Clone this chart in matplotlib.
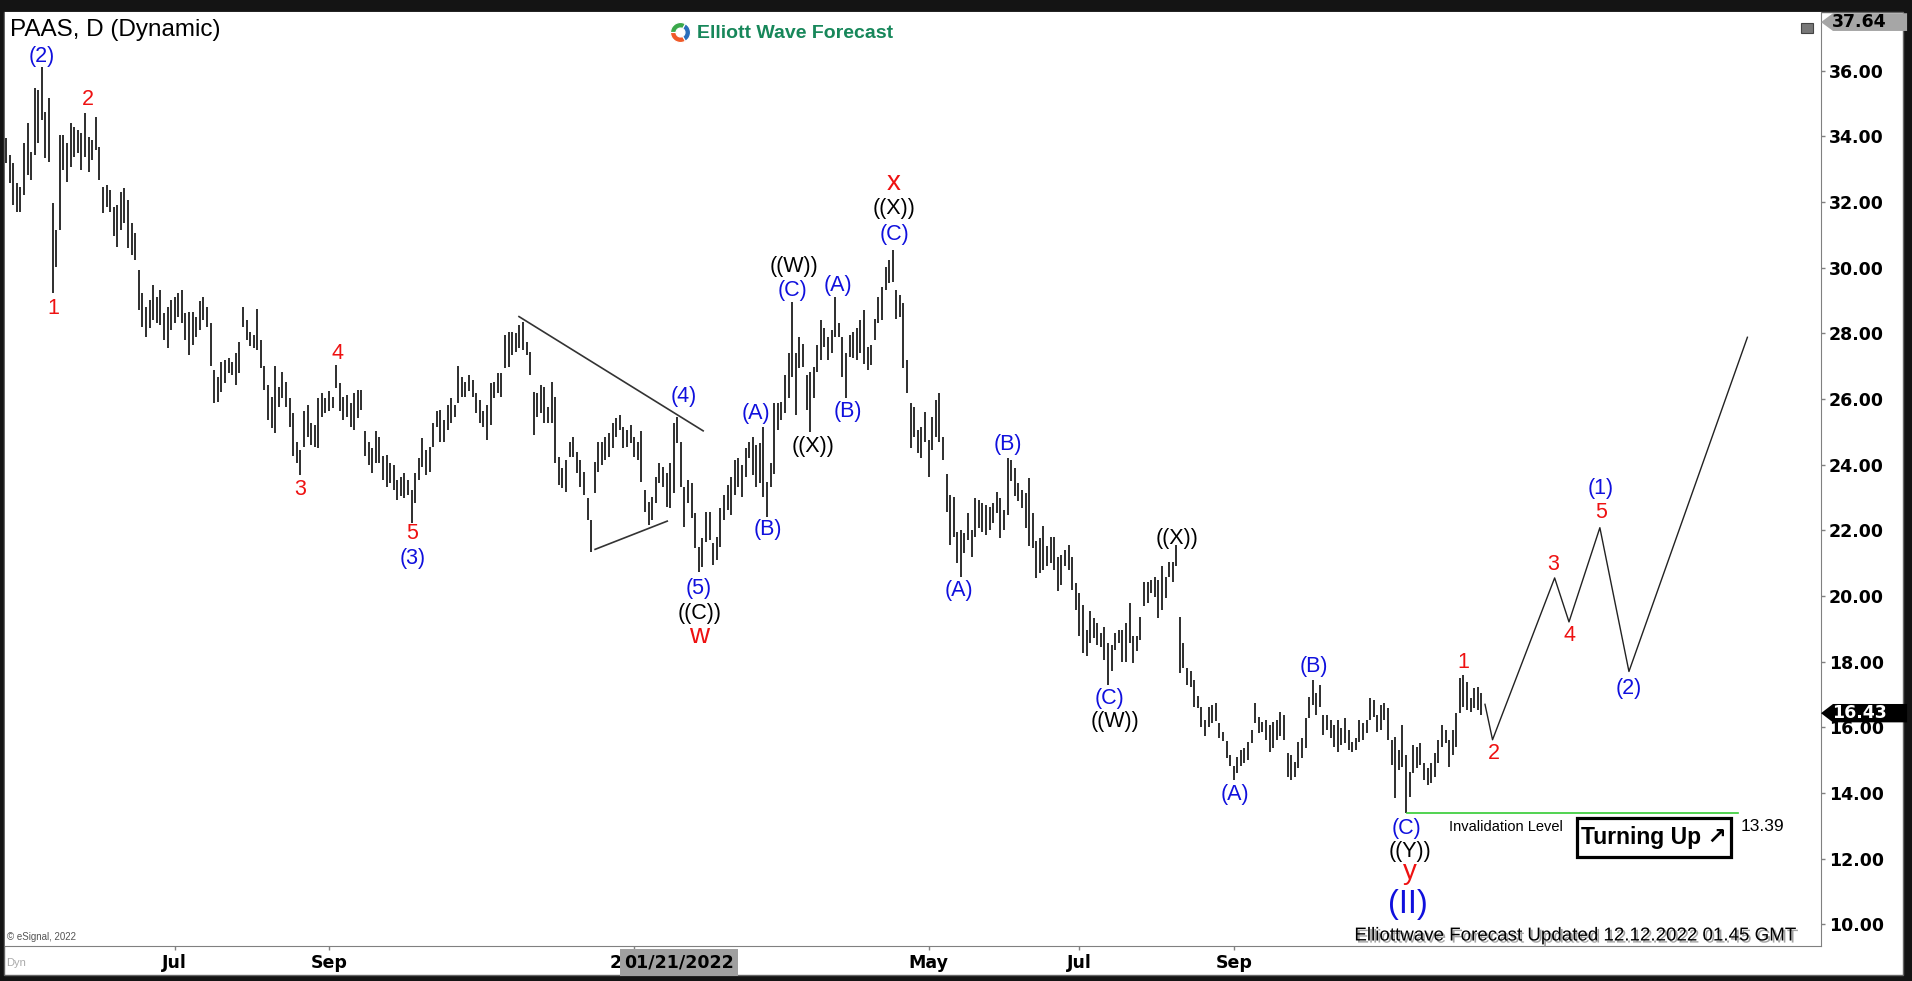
import numpy as np
import pandas as pd
import matplotlib
matplotlib.use('Agg')
import matplotlib.pyplot as plt
from matplotlib.patches import Rectangle, Polygon
import matplotlib.patheffects as pe
import matplotlib.transforms as mtransforms

# trading days shown on the chart (NYSE holidays removed)
holidays = ['2021-05-31', '2021-07-05', '2021-09-06', '2021-11-25', '2021-12-24',
            '2022-01-17', '2022-02-21', '2022-04-15', '2022-05-30', '2022-06-20',
            '2022-07-04', '2022-09-05', '2022-11-24']
dates = pd.bdate_range('2021-04-26', '2022-12-09')
dates = dates[~dates.isin(pd.to_datetime(holidays))]

# daily highs / lows
hi = [33.94, 33.43, 33.18, 32.57, 32.47, 33.79, 34.40, 33.53, 35.46, 35.41,
      36.12, 34.75, 35.16, 31.96, 31.15, 34.04, 34.04, 33.79, 34.40, 34.30,
      34.19, 34.09, 34.70, 33.99, 33.89, 34.60, 33.69, 32.47, 32.52, 32.37,
      31.86, 31.91, 32.32, 32.42, 32.06, 31.35, 31.05, 29.93, 29.22, 28.81,
      29.02, 29.47, 29.12, 29.32, 28.61, 28.81, 29.02, 29.12, 29.22, 29.32,
      28.61, 28.66, 28.66, 28.51, 28.97, 29.12, 28.81, 28.31, 26.88, 26.68,
      27.14, 27.19, 27.24, 27.14, 27.39, 27.75, 28.81, 28.41, 28.05, 27.95,
      28.73, 27.80, 26.99, 26.43, 26.07, 26.99, 26.38, 26.83, 26.53, 26.02,
      25.56, 24.70, 24.45, 25.62, 25.82, 25.26, 25.21, 26.02, 26.17, 26.02,
      26.23, 26.07, 27.04, 26.48, 26.07, 26.12, 25.87, 26.17, 26.27, 26.27,
      25.01, 24.70, 24.50, 25.01, 24.85, 24.25, 24.30, 24.04, 23.99, 23.53,
      23.63, 23.74, 23.53, 23.23, 23.74, 24.20, 24.80, 24.45, 24.55, 25.26,
      25.62, 25.67, 25.36, 25.82, 26.02, 25.82, 26.99, 26.68, 26.53, 26.73,
      26.58, 26.17, 25.97, 25.62, 25.82, 26.48, 26.53, 26.79, 26.78, 27.95,
      28.05, 28.05, 28.00, 28.25, 28.36, 27.75, 27.44, 26.22, 26.17, 26.43,
      26.38, 25.77, 26.53, 26.07, 24.24, 23.89, 24.14, 24.70, 24.85, 24.40,
      24.14, 23.79, 22.97, 22.31, 24.09, 24.70, 24.70, 24.85, 24.95, 25.26,
      25.41, 25.51, 25.16, 25.06, 25.21, 24.85, 24.70, 25.01, 23.23, 22.87,
      23.02, 23.63, 24.04, 23.94, 23.74, 24.04, 25.26, 25.46, 24.70, 23.33,
      23.53, 23.43, 22.52, 21.50, 21.76, 22.57, 22.57, 21.60, 21.81, 22.67,
      23.08, 23.38, 23.63, 24.14, 24.19, 23.99, 24.50, 24.70, 24.85, 24.60,
      24.65, 25.16, 23.48, 24.04, 25.87, 25.87, 25.92, 26.73, 27.39, 28.96,
      27.39, 27.90, 27.69, 26.73, 26.83, 26.98, 27.64, 28.40, 28.15, 27.90,
      28.10, 29.12, 28.30, 27.90, 27.39, 27.95, 28.05, 28.15, 28.40, 28.71,
      27.59, 27.64, 28.45, 29.12, 29.42, 30.03, 30.23, 30.54, 29.32, 29.17,
      28.91, 27.19, 25.87, 25.77, 25.05, 25.16, 25.61, 24.75, 25.46, 25.97,
      26.17, 24.85, 23.73, 23.07, 23.02, 21.96, 22.01, 21.91, 22.52, 22.01,
      22.97, 22.92, 22.82, 22.77, 22.72, 22.82, 23.18, 22.98, 22.62, 24.20,
      24.15, 23.89, 23.44, 23.23, 23.13, 23.59, 22.52, 21.66, 21.76, 22.12,
      21.51, 21.81, 21.81, 21.20, 21.25, 21.41, 21.56, 21.20, 20.39, 20.09,
      19.73, 18.97, 19.53, 19.32, 19.17, 18.87, 19.07, 18.56, 18.51, 18.87,
      18.97, 18.97, 19.17, 19.78, 18.77, 18.77, 19.37, 20.44, 20.44, 20.49,
      20.59, 20.49, 20.90, 20.59, 21.05, 21.05, 21.56, 19.37, 18.56, 17.80,
      17.70, 17.45, 16.94, 16.63, 16.23, 16.63, 16.68, 16.73, 16.12, 15.87,
      15.57, 15.16, 14.81, 15.11, 15.31, 15.36, 15.55, 15.92, 16.73, 16.32,
      16.17, 16.22, 16.07, 16.17, 16.22, 16.48, 16.38, 15.21, 15.16, 14.95,
      15.56, 15.66, 16.27, 16.93, 17.44, 17.04, 17.29, 16.38, 16.38, 16.22,
      16.07, 16.22, 15.97, 16.27, 15.92, 15.56, 15.66, 16.22, 16.12, 16.22,
      16.88, 16.83, 16.38, 16.68, 16.73, 16.58, 15.61, 15.71, 15.31, 16.07,
      15.16, 14.65, 15.46, 15.41, 15.51, 14.90, 14.75, 14.90, 15.21, 15.61,
      16.07, 15.92, 15.61, 15.92, 16.43, 17.49, 17.59, 17.39, 16.88, 17.19,
      17.24, 17.04]

lo = [33.18, 32.57, 31.91, 31.71, 31.71, 32.21, 32.82, 32.67, 33.43, 33.79,
      34.50, 33.33, 33.23, 29.22, 30.03, 31.15, 32.97, 32.62, 33.08, 33.38,
      33.48, 32.97, 33.38, 32.92, 33.28, 33.58, 32.67, 31.66, 31.86, 31.71,
      30.95, 30.64, 31.15, 31.35, 30.59, 30.39, 30.24, 28.71, 28.20, 27.90,
      28.15, 28.41, 28.31, 28.25, 27.80, 27.54, 28.10, 28.31, 28.51, 28.31,
      27.80, 27.34, 27.65, 27.90, 28.10, 28.41, 28.20, 26.99, 25.87, 25.92,
      26.22, 26.48, 26.78, 26.73, 26.43, 26.78, 28.20, 27.80, 27.60, 27.55,
      27.49, 26.94, 26.27, 25.36, 25.11, 24.96, 25.77, 26.02, 25.77, 25.16,
      24.25, 24.04, 23.70, 24.55, 24.85, 24.60, 24.55, 24.50, 25.46, 25.56,
      25.62, 25.72, 26.33, 25.62, 25.36, 25.46, 25.16, 25.06, 25.41, 25.67,
      24.25, 23.99, 23.74, 24.04, 24.04, 23.53, 23.33, 23.43, 23.23, 22.93,
      23.03, 22.98, 23.08, 22.21, 22.82, 23.53, 23.94, 23.69, 23.79, 24.55,
      25.16, 24.70, 24.70, 25.06, 25.26, 25.46, 25.87, 26.07, 26.07, 26.23,
      26.07, 25.56, 25.26, 25.16, 24.75, 25.21, 26.02, 26.18, 26.07, 26.93,
      26.98, 27.34, 27.44, 27.54, 27.49, 27.34, 26.73, 24.90, 25.46, 25.56,
      25.26, 25.26, 25.26, 24.04, 23.38, 23.28, 23.18, 24.24, 24.24, 23.74,
      23.33, 23.08, 22.31, 21.35, 23.13, 23.79, 23.99, 24.14, 24.24, 24.50,
      24.85, 25.06, 24.50, 24.55, 24.65, 24.24, 24.14, 23.48, 22.57, 22.16,
      22.31, 22.82, 23.43, 23.33, 22.72, 22.67, 23.13, 24.65, 23.33, 22.11,
      22.82, 22.36, 21.45, 20.74, 20.89, 21.65, 21.70, 20.94, 21.10, 21.50,
      22.31, 22.62, 22.47, 23.08, 23.33, 23.02, 23.63, 24.20, 23.68, 23.33,
      23.43, 23.02, 22.41, 23.33, 23.73, 25.05, 25.36, 25.56, 26.02, 26.68,
      25.51, 26.93, 26.98, 25.66, 25.00, 26.02, 26.83, 27.19, 27.59, 27.19,
      27.39, 27.90, 27.90, 26.68, 26.02, 27.29, 27.24, 27.19, 27.39, 27.08,
      26.88, 27.03, 27.80, 28.30, 28.40, 29.32, 29.52, 29.57, 28.45, 28.51,
      26.93, 26.17, 24.50, 24.85, 24.34, 24.19, 24.70, 23.63, 24.45, 24.85,
      24.70, 24.14, 22.57, 21.55, 21.81, 20.99, 20.59, 21.30, 21.70, 21.20,
      21.81, 22.06, 21.96, 21.86, 22.01, 22.21, 22.52, 21.76, 22.01, 22.47,
      23.49, 23.03, 22.88, 22.67, 22.07, 21.51, 21.46, 20.54, 20.69, 20.80,
      20.90, 21.00, 20.80, 20.14, 20.34, 20.90, 20.80, 20.19, 19.58, 18.77,
      18.26, 18.16, 18.56, 18.71, 18.51, 18.46, 18.06, 17.29, 17.70, 18.36,
      18.56, 18.00, 18.00, 18.56, 17.95, 18.31, 18.66, 19.68, 19.78, 20.09,
      19.98, 19.32, 19.58, 19.93, 20.59, 20.44, 20.90, 17.65, 17.80, 17.29,
      17.24, 16.63, 16.58, 16.02, 15.72, 16.02, 16.12, 16.18, 15.67, 15.57,
      15.06, 14.81, 14.40, 14.60, 14.81, 14.91, 15.00, 15.51, 16.12, 15.82,
      15.87, 15.61, 15.26, 15.36, 15.61, 15.72, 15.61, 14.50, 14.40, 14.50,
      14.75, 15.06, 15.36, 16.27, 16.68, 16.38, 16.63, 15.77, 15.92, 15.66,
      15.41, 15.26, 15.46, 15.51, 15.31, 15.26, 15.31, 15.56, 15.61, 15.82,
      16.22, 16.32, 15.87, 15.92, 16.22, 15.61, 14.85, 13.84, 14.70, 14.80,
      13.39, 13.89, 14.60, 14.75, 14.85, 14.40, 14.24, 14.29, 14.50, 14.90,
      15.41, 15.51, 14.80, 15.16, 15.41, 16.43, 16.63, 16.53, 16.48, 16.58,
      16.53, 16.38]

# wave labels: text, bar index, price, colour
wave_labels = [
    ('(2)', 9.9, 36.43, 'blue'), ('1', 13.2, 28.76, 'red'), ('2', 22.9, 35.13, 'red'),
    ('3', 81.9, 23.23, 'red'), ('4', 92.4, 27.39, 'red'), ('5', 113.2, 21.89, 'red'),
    ('(3)', 113.2, 21.15, 'blue'), ('(4)', 188.8, 26.07, 'blue'), ('(5)', 193.0, 20.23, 'blue'),
    ('((C))', 193.3, 19.47, 'black'), ('(A)', 208.9, 25.56, 'blue'), ('(B)', 212.3, 22.01, 'blue'),
    ('((W))', 219.6, 30.03, 'black'), ('(C)', 219.1, 29.29, 'blue'), ('((X))', 224.7, 24.55, 'black'),
    ('(A)', 231.7, 29.45, 'blue'), ('(B)', 234.5, 25.61, 'blue'), ('((X))', 247.3, 31.80, 'black'),
    ('(C)', 247.4, 31.00, 'blue'), ('(A)', 265.5, 20.18, 'blue'), ('(B)', 279.2, 24.60, 'blue'),
    ('(C)', 307.5, 16.88, 'blue'), ('((W))', 308.9, 16.17, 'black'), ('((X))', 326.1, 21.76, 'black'),
    ('(A)', 342.4, 13.94, 'blue'), ('(B)', 364.2, 17.85, 'blue'), ('(C)', 390.2, 12.92, 'blue'),
    ('((Y))', 391.0, 12.23, 'black'), ('1', 405.9, 17.97, 'red'), ('2', 414.5, 15.21, 'red'),
    ('3', 431.1, 20.96, 'red'), ('4', 435.5, 18.80, 'red'), ('5', 444.3, 22.55, 'red'),
    ('(1)', 444.3, 23.26, 'blue'), ('(2)', 452.1, 17.17, 'blue'),
]
big_labels = [('w', 193.0, 18.77), ('x', 247.3, 32.58), ('y', 391.0, 11.60)]

# projected path
proj_x = [412.0, 414.1, 431.4, 435.4, 444.0, 452.1, 485.1]
proj_y = [16.70, 15.62, 20.55, 19.21, 22.08, 17.70, 27.88]

# triangle lines
tri_upper = ([142.9, 194.2], [28.51, 25.03])
tri_lower = ([164.1, 184.2], [21.42, 22.28])

invalid_level = 13.39
last_price = 16.43
top_price = 37.64

BLUE = '#1010dd'
RED = '#ee1111'
colmap = {'blue': BLUE, 'red': RED, 'black': 'black'}

W, H = 1912, 981
fig = plt.figure(figsize=(W / 100, H / 100), dpi=100, facecolor='#141414')
fig.patches.append(Rectangle((4 / W, 6 / H), 1899 / W, 963 / H, transform=fig.transFigure,
                             facecolor='white', edgecolor='#666666', lw=1, zorder=-10))

ax = fig.add_axes([5 / W, 35 / H, 1816 / W, 934 / H])
ax.set_zorder(1)
ax.set_facecolor('white')

x = np.arange(len(hi))
ax.vlines(x, lo, hi, color='black', lw=1.15)

ax.set_xlim(-0.28, 505.6)
ax.set_ylim(9.338, 37.788)

for s in ['top', 'left']:
    ax.spines[s].set_visible(False)
for s in ['bottom', 'right']:
    ax.spines[s].set_color('#808080')

# right price axis
ax.yaxis.tick_right()
yt = np.arange(10, 37, 2)
ax.set_yticks(yt)
ax.set_yticklabels(['%.2f' % v for v in yt], fontweight='bold', family='DejaVu Sans')
ax.tick_params(axis='y', length=3, width=1, color='#808080', pad=2.5, labelsize=12.5)

# month ticks
tick_months = [(2021, 7), (2021, 9), (2022, 1), (2022, 5), (2022, 7), (2022, 9)]
tick_text = ['Jul', 'Sep', '2022', 'May', 'Jul', 'Sep']
tick_pos = [int(np.argmax((dates.year == y) & (dates.month == m))) for y, m in tick_months]
ax.set_xticks(tick_pos)
ax.set_xticklabels(tick_text, fontweight='bold', family='DejaVu Sans')
ax.tick_params(axis='x', length=3, width=1, color='#808080', pad=3, labelsize=12.5)

# crosshair date box
cur = dates.get_loc(pd.Timestamp('2022-01-21'))
ax.text(cur - 0.5, -0.0175, '01/21/2022', transform=ax.get_xaxis_transform(), ha='center', va='center',
        fontsize=12.5, fontweight='bold', family='DejaVu Sans', color='black', clip_on=False, zorder=6,
        bbox=dict(boxstyle='square,pad=0.25', facecolor='#a0a0a0', edgecolor='none'))

# triangle and projection
ax.plot(*tri_upper, color='#333333', lw=1.2)
ax.plot(*tri_lower, color='#333333', lw=1.2)
ax.plot(proj_x, proj_y, color='#222222', lw=1.0)

# invalidation line
ax.plot([390.2, 482.4], [invalid_level, invalid_level], color='#33cc33', lw=1.2)
ax.text(402.0, 12.96, 'Invalidation Level', fontsize=10.5, family='Liberation Sans', va='center', ha='left')
ax.text(483.2, 12.99, '%.2f' % invalid_level, fontsize=12.5, family='Liberation Sans', va='center', ha='left')

# Turning Up box
ax.add_patch(Rectangle((437.5, 12.04), 43.0, 1.19, facecolor='white', edgecolor='black', lw=2.3, zorder=4))
ax.text(459.0, 12.63, 'Turning Up \u2197', fontsize=16.5, fontweight='bold', ha='center', va='center',
        family=['Liberation Sans', 'DejaVu Sans'], zorder=5)

# wave labels
for t, xi, yv, c in wave_labels:
    ax.text(xi, yv, t, color=colmap[c], fontsize=15.5, ha='center', va='center', family='Liberation Sans')
for t, xi, yv in big_labels:
    ax.text(xi, yv, t, color=RED, fontsize=20, ha='center', va='center', family='Liberation Sans')
ax.text(390.6, 10.59, '(II)', color=BLUE, fontsize=23.5, ha='center', va='center', family='Liberation Sans')

# price markers on the right axis
btr = mtransforms.blended_transform_factory(ax.transAxes, ax.transData)


def marker(price, fc, tc, hh=0.28):
    pts = [(1.0, price), (1.0066, price + hh), (1.0474, price + hh), (1.0474, price - hh), (1.0066, price - hh)]
    ax.add_patch(Polygon(pts, closed=True, transform=btr, facecolor=fc, edgecolor='none', clip_on=False, zorder=7))
    ax.text(1.021, price, '%.2f' % price, transform=btr, ha='center', va='center', color=tc,
            fontsize=12.5, fontweight='bold', family='DejaVu Sans', clip_on=False, zorder=8)


marker(last_price, 'black', 'white')
pts = [(1.0, 37.48), (1.0066, 37.75), (1.0474, 37.75), (1.0474, 37.21), (1.0066, 37.21)]
ax.add_patch(Polygon(pts, closed=True, transform=btr, facecolor='#a6a6a6', edgecolor='none', clip_on=False, zorder=7))
ax.text(1.021, 37.48, '%.2f' % top_price, transform=btr, ha='center', va='center', color='black',
        fontsize=12.5, fontweight='bold', family='DejaVu Sans', clip_on=False, zorder=8)

# header texts
fig.text(10 / W, 1 - 30 / H, 'PAAS, D (Dynamic)', fontsize=17.5, family='Liberation Sans', va='center', ha='left',
         zorder=5)
logo = fig.add_axes([668 / W, 1 - 45 / H, 25 / W, 25 / H])
logo.set_zorder(5)
logo.pie([1, 1, 1], colors=['#3aa84a', '#f05a28', '#2a6ebb'], startangle=60,
         wedgeprops=dict(width=0.55, edgecolor='white', lw=0.8))
logo.set_aspect('equal')
fig.text(697 / W, 1 - 33 / H, 'Elliott Wave Forecast', fontsize=14, fontweight='bold', color='#17875a',
         family='Liberation Sans', va='center', ha='left', zorder=5)
fig.patches.append(Rectangle((1801 / W, 1 - 33 / H), 12 / W, 10 / H, transform=fig.transFigure,
                             facecolor='#777777', edgecolor='#444444', lw=0.8, zorder=5))

# footer texts
fig.text(1796 / W, 1 - 936 / H, 'Elliottwave Forecast Updated 12.12.2022 01.45 GMT', fontsize=13.5,
         family='Liberation Sans', ha='right', va='center', color='black', zorder=5,
         path_effects=[pe.SimplePatchShadow(offset=(1.5, -1.5), shadow_rgbFace='#999999', alpha=0.9), pe.Normal()])
fig.text(7 / W, 1 - 937 / H, '\u00a9 eSignal, 2022', fontsize=7, family='Liberation Sans', color='#555555',
         ha='left', va='center', zorder=5)
fig.text(6 / W, 1 - 963 / H, 'Dyn', fontsize=8, family='Liberation Sans', color='#aaaaaa', ha='left', va='center',
         zorder=5)

fig.savefig('out.png', dpi=100, facecolor=fig.get_facecolor())
